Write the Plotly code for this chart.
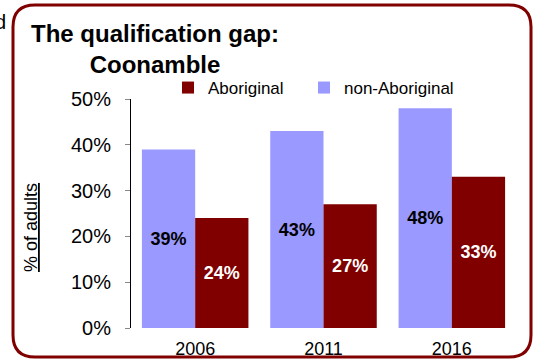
import plotly.graph_objects as go

years = ["2006", "2011", "2016"]
non_aboriginal = [39, 43, 48]
aboriginal = [24, 27, 33]
y_ticks = [0, 10, 20, 30, 40, 50]
y_tick_labels = ["0%", "10%", "20%", "30%", "40%", "50%"]

W, H = 539, 361
L, R, T, B = 131, 516, 99, 328
FONT = "Liberation Sans, Arial, sans-serif"

def px(x):
    return (x - L) / (R - L)

def py(y):
    return (B - y) / (B - T)

fig = go.Figure()
fig.add_trace(go.Bar(
    x=years, y=non_aboriginal, name="non-Aboriginal", legend="legend2",
    marker=dict(color="#9999FF", line=dict(width=0)),
    texttemplate="<b>%{y:.0f}%</b>", textposition="inside",
    insidetextanchor="middle", textangle=0,
    textfont=dict(family=FONT, size=18, color="black"),
))
fig.add_trace(go.Bar(
    x=years, y=aboriginal, name="Aboriginal", legend="legend",
    marker=dict(color="#800000", line=dict(width=0)),
    texttemplate="<b>%{y:.0f}%</b>", textposition="inside",
    insidetextanchor="middle", textangle=0,
    textfont=dict(family=FONT, size=18, color="white"),
))

# rounded border
x0, x1, y0, y1, r = 13, 531, 5, 357, 22
path = (
    f"M {px(x0+r)},{py(y0)} L {px(x1-r)},{py(y0)} "
    f"Q {px(x1)},{py(y0)} {px(x1)},{py(y0+r)} "
    f"L {px(x1)},{py(y1-r)} Q {px(x1)},{py(y1)} {px(x1-r)},{py(y1)} "
    f"L {px(x0+r)},{py(y1)} Q {px(x0)},{py(y1)} {px(x0)},{py(y1-r)} "
    f"L {px(x0)},{py(y0+r)} Q {px(x0)},{py(y0)} {px(x0+r)},{py(y0)} Z"
)

legend_style = dict(
    orientation="h", yanchor="middle", xanchor="left", y=py(88),
    font=dict(family=FONT, size=17, color="black"),
    bgcolor="rgba(0,0,0,0)", borderwidth=0,
)

fig.update_layout(
    width=W, height=H,
    margin=dict(l=L, r=W - R, t=T, b=H - B, autoexpand=False),
    paper_bgcolor="white", plot_bgcolor="white",
    font=dict(family=FONT, color="black"),
    barmode="group", bargap=0.17, bargroupgap=0,
    title=dict(
        text="<b>The qualification gap:<br>Coonamble</b>",
        x=155 / W, xanchor="center", y=1 - 42 / H, yanchor="top",
        font=dict(family=FONT, size=24, color="black"),
    ),
    showlegend=True,
    legend=dict(x=px(168), **legend_style),
    legend2=dict(x=px(304), **legend_style),
    xaxis=dict(
        type="category", showline=False, ticks="", showgrid=False,
        tickfont=dict(family=FONT, size=18, color="black"),
        ticklabelstandoff=8,
    ),
    yaxis=dict(
        range=[0, 50], tickmode="array", tickvals=y_ticks, ticktext=y_tick_labels,
        showline=True, linecolor="black", linewidth=1,
        ticks="outside", ticklen=5, tickcolor="#888888",
        showgrid=False, zeroline=False,
        tickfont=dict(family=FONT, size=20, color="black"),
        ticklabelstandoff=10,
    ),
    shapes=[dict(type="path", path=path, xref="paper", yref="paper",
                 line=dict(color="#800000", width=3), layer="below")],
    annotations=[
        dict(text="<u>% of adults</u>", textangle=-90, xref="paper", yref="paper",
             x=px(31), y=py(228), xanchor="center", yanchor="middle",
             showarrow=False, font=dict(family=FONT, size=18, color="black")),
        dict(text="d", xref="paper", yref="paper", x=px(8), y=py(22),
             xanchor="right", yanchor="middle", showarrow=False,
             font=dict(family=FONT, size=20, color="black")),
    ],
)

fig.write_html("out.html", config={"displayModeBar": False},
               post_script="document.body.style.margin='0';")
